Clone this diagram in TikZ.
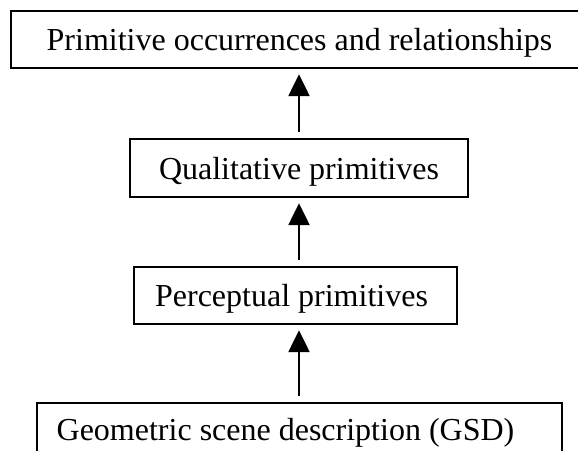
\documentclass[tikz,border=0pt]{standalone}
\usepackage{fontspec}
\setmainfont{Liberation Serif}
\usetikzlibrary{arrows.meta}
\begin{document}
\begin{tikzpicture}[x=1pt,y=-1pt,
  box/.style={draw, line width=2.4pt, inner sep=0pt, text height=22pt, text depth=0pt,
    font=\fontsize{32}{38}\selectfont},
  arr/.style={line width=2.4pt, -{Triangle[length=22pt,width=21pt]}, shorten >=5pt, shorten <=6pt}]
\clip (0,0) rectangle (578,450);
\fill[white] (0,0) rectangle (578,450);
\node[box, minimum width=577pt, minimum height=57pt] (top) at (299.5,39.5) {Primitive occurrences and relationships};
\node[box, minimum width=338pt, minimum height=58pt] (qual) at (299,168) {Qualitative primitives};
\node[box, minimum width=323pt, minimum height=57pt] (perc) at (295.5,295.5) {Perceptual primitives\rule{8pt}{0pt}};
\node[box, minimum width=525pt, minimum height=52pt] (bot) at (299.5,429) {Geometric scene description (GSD)\rule{28pt}{0pt}};
\draw[arr] (qual.north) -- (top.south -| qual.north);
\draw[arr] (perc.north -| qual.north) -- (qual.south);
\draw[arr] (bot.north -| qual.north) -- (perc.south -| qual.north);
\end{tikzpicture}
\end{document}
